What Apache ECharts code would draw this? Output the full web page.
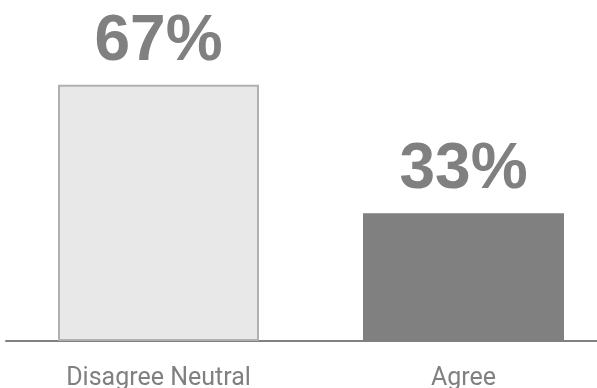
<!DOCTYPE html>
<html><head><meta charset="utf-8">
<script src="https://cdn.jsdelivr.net/npm/echarts@6/dist/echarts.min.js"></script>
<style>html,body{margin:0;padding:0;background:#fff}#c{width:597px;height:388px}</style>
</head><body><div id="c"></div>
<script>
const categories = ['Disagree Neutral', 'Agree'];
const values = [66.7, 33.3];
const labels = ['67%', '33%'];

const chart = echarts.init(document.getElementById('c'), null, {renderer: 'canvas'});
chart.setOption({
  animation: false,
  grid: {left: 6, width: 610, top: -43, bottom: 47, outerBoundsMode: 'none', containLabel: false},
  xAxis: {
    type: 'category', data: categories,
    axisLine: {lineStyle: {color: '#808080', width: 2}},
    axisTick: {show: false},
    axisLabel: {color: '#808080', fontFamily: 'Roboto', fontSize: 25, margin: 25}
  },
  yAxis: {type: 'value', min: 0, max: 100, show: false, splitLine: {show: false}},
  series: [{
    type: 'bar', barWidth: 201,
    data: values.map((v, i) => ({
      value: v,
      itemStyle: i === 0 ? {color: '#e8e8e8', borderColor: '#b0b0b0', borderWidth: 2} : {color: '#808080'}
    })),
    label: {
      show: true, position: 'top', distance: 11,
      formatter: p => labels[p.dataIndex],
      color: '#808080', fontFamily: 'Liberation Sans', fontWeight: 'bold', fontSize: 64
    }
  }]
});
</script></body></html>
